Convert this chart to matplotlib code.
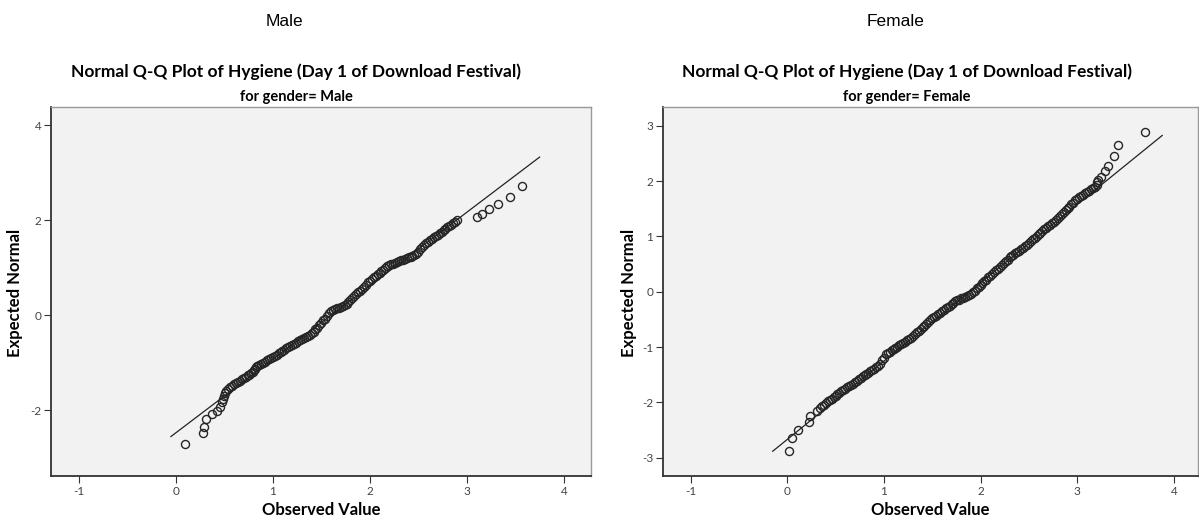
# Normal Q-Q plots of day 1 hygiene, split by gender (SPSS style)
import matplotlib
matplotlib.use("Agg")
import matplotlib.pyplot as plt

plt.rcParams["axes.unicode_minus"] = False

# values
# male: observed hygiene score and expected normal value, in rank order
male_obs = [0.10, 0.28, 0.29, 0.31, 0.37, 0.43, 0.46, 0.48, 0.49, 0.50, 0.51, 0.52,
            0.54, 0.56, 0.58, 0.60, 0.62, 0.64, 0.66, 0.68, 0.70, 0.72, 0.74, 0.76,
            0.78, 0.80, 0.81, 0.82, 0.83, 0.84, 0.86, 0.88, 0.90, 0.92, 0.94, 0.96,
            0.98, 1.00, 1.02, 1.04, 1.06, 1.08, 1.10, 1.12, 1.14, 1.16, 1.18, 1.20,
            1.22, 1.24, 1.26, 1.28, 1.30, 1.32, 1.34, 1.36, 1.38, 1.40, 1.42, 1.44,
            1.46, 1.48, 1.50, 1.52, 1.54, 1.56, 1.58, 1.60, 1.62, 1.64, 1.66, 1.68,
            1.70, 1.72, 1.74, 1.76, 1.78, 1.80, 1.82, 1.84, 1.86, 1.88, 1.90, 1.92,
            1.94, 1.96, 1.98, 2.00, 2.02, 2.04, 2.06, 2.08, 2.10, 2.12, 2.14, 2.16,
            2.18, 2.20, 2.22, 2.24, 2.26, 2.28, 2.30, 2.32, 2.34, 2.36, 2.38, 2.40,
            2.42, 2.44, 2.46, 2.48, 2.50, 2.52, 2.54, 2.56, 2.58, 2.60, 2.62, 2.64,
            2.66, 2.68, 2.70, 2.72, 2.74, 2.76, 2.78, 2.80, 2.82, 2.84, 2.86, 2.88,
            2.90, 3.10, 3.16, 3.23, 3.32, 3.44, 3.57]
male_exp = [-2.72, -2.48, -2.35, -2.19, -2.09, -2.02, -1.93, -1.84, -1.77, -1.70, -1.64, -1.59,
            -1.55, -1.52, -1.49, -1.46, -1.43, -1.40, -1.38, -1.35, -1.33, -1.30, -1.27, -1.25,
            -1.22, -1.20, -1.16, -1.13, -1.10, -1.08, -1.05, -1.03, -1.00, -0.98, -0.95, -0.93,
            -0.90, -0.88, -0.85, -0.83, -0.80, -0.78, -0.75, -0.73, -0.70, -0.68, -0.65, -0.63,
            -0.60, -0.58, -0.55, -0.53, -0.50, -0.48, -0.45, -0.43, -0.41, -0.38, -0.35, -0.30,
            -0.26, -0.21, -0.16, -0.11, -0.07, -0.02, 0.04, 0.09, 0.11, 0.13, 0.15, 0.16,
            0.18, 0.19, 0.21, 0.24, 0.28, 0.32, 0.36, 0.40, 0.44, 0.48, 0.52, 0.56,
            0.60, 0.64, 0.69, 0.73, 0.77, 0.80, 0.83, 0.86, 0.90, 0.93, 0.96, 0.99,
            1.03, 1.06, 1.08, 1.09, 1.11, 1.12, 1.14, 1.16, 1.17, 1.19, 1.20, 1.22,
            1.23, 1.25, 1.26, 1.29, 1.34, 1.39, 1.44, 1.49, 1.52, 1.55, 1.58, 1.61,
            1.64, 1.67, 1.70, 1.73, 1.76, 1.79, 1.82, 1.85, 1.88, 1.91, 1.94, 1.97,
            2.00, 2.08, 2.14, 2.23, 2.35, 2.50, 2.73]

# female: observed hygiene score and expected normal value, in rank order
female_obs = [0.02, 0.05, 0.11, 0.23, 0.24, 0.31, 0.34,
              0.36, 0.38, 0.40, 0.42, 0.44, 0.46, 0.48, 0.50, 0.52, 0.54, 0.56, 0.58,
              0.60, 0.62, 0.64, 0.66, 0.68, 0.70, 0.72, 0.74, 0.76, 0.78, 0.80, 0.82,
              0.84, 0.86, 0.88, 0.90, 0.92, 0.94, 0.96, 0.98, 1.00, 1.02, 1.04, 1.06,
              1.08, 1.10, 1.12, 1.14, 1.16, 1.18, 1.20, 1.22, 1.24, 1.26, 1.28, 1.30,
              1.32, 1.34, 1.36, 1.38, 1.40, 1.42, 1.44, 1.46, 1.48, 1.50, 1.52, 1.54,
              1.56, 1.58, 1.60, 1.62, 1.64, 1.66, 1.68, 1.70, 1.72, 1.74, 1.76, 1.78,
              1.80, 1.82, 1.84, 1.86, 1.88, 1.90, 1.92, 1.94, 1.96, 1.98, 2.00, 2.02,
              2.04, 2.06, 2.08, 2.10, 2.12, 2.14, 2.16, 2.18, 2.20, 2.22, 2.24, 2.26,
              2.28, 2.30, 2.32, 2.34, 2.36, 2.38, 2.40, 2.42, 2.44, 2.46, 2.48, 2.50,
              2.52, 2.54, 2.56, 2.58, 2.60, 2.62, 2.64, 2.66, 2.68, 2.70, 2.72, 2.74,
              2.76, 2.78, 2.80, 2.82, 2.84, 2.86, 2.88, 2.90, 2.92, 2.94, 2.96, 2.98,
              3.00, 3.02, 3.04, 3.06, 3.08, 3.10, 3.12, 3.14, 3.16, 3.18, 3.20, 3.21,
              3.22, 3.25, 3.29, 3.32, 3.38, 3.42, 3.70]
female_exp = [-2.88, -2.65, -2.50, -2.36, -2.24, -2.15, -2.10,
              -2.07, -2.04, -2.01, -1.98, -1.95, -1.93, -1.90, -1.88, -1.85, -1.83, -1.80, -1.78,
              -1.75, -1.73, -1.71, -1.68, -1.66, -1.63, -1.61, -1.58, -1.56, -1.53, -1.51, -1.48,
              -1.46, -1.44, -1.41, -1.39, -1.36, -1.34, -1.30, -1.24, -1.19, -1.13, -1.10, -1.08,
              -1.06, -1.03, -1.01, -0.99, -0.97, -0.94, -0.92, -0.90, -0.88, -0.85, -0.83, -0.80,
              -0.77, -0.73, -0.70, -0.67, -0.64, -0.61, -0.58, -0.54, -0.51, -0.48, -0.46, -0.43,
              -0.40, -0.38, -0.35, -0.33, -0.30, -0.27, -0.25, -0.22, -0.20, -0.17, -0.15, -0.14,
              -0.12, -0.11, -0.09, -0.07, -0.06, -0.04, -0.01, 0.02, 0.06, 0.09, 0.12, 0.16,
              0.19, 0.22, 0.26, 0.29, 0.32, 0.35, 0.39, 0.42, 0.45, 0.49, 0.52, 0.55,
              0.58, 0.62, 0.65, 0.67, 0.70, 0.72, 0.74, 0.77, 0.79, 0.82, 0.85, 0.88,
              0.91, 0.95, 0.98, 1.01, 1.04, 1.07, 1.10, 1.13, 1.16, 1.19, 1.21, 1.24,
              1.27, 1.30, 1.33, 1.37, 1.40, 1.44, 1.47, 1.51, 1.54, 1.58, 1.61, 1.65,
              1.68, 1.71, 1.73, 1.75, 1.78, 1.80, 1.83, 1.85, 1.88, 1.90, 1.93, 1.98,
              2.02, 2.07, 2.18, 2.28, 2.45, 2.66, 2.88]

# reference line: mean and sd of each group, drawn over this x range
male_mean, male_sd = 1.60, 0.645
female_mean, female_sd = 1.885, 0.706
male_line_x = [-0.05, 3.75]
female_line_x = [-0.15, 3.88]

male_yticks = [-2, 0, 2, 4]
female_yticks = [-3, -2, -1, 0, 1, 2, 3]
xticks = [-1, 0, 1, 2, 3, 4]

W, H = 1199, 520
fig = plt.figure(figsize=(W / 100, H / 100), dpi=100)
fig.patch.set_facecolor("white")

title_font = ["Lato", "DejaVu Sans"]
tick_font = ["Lato", "DejaVu Sans"]


def px(x, y):
    return x / W, 1 - y / H


def qq_panel(rect, obs, exp, mean, sd, line_x, xlim, ylim, yticks):
    ax = fig.add_axes(rect)
    ax.set_facecolor("#f2f2f2")
    ax.plot(obs, exp, linestyle="none", marker="o", markersize=5.8,
            markerfacecolor="none", markeredgecolor="#262626", markeredgewidth=1.0)
    line_y = [(v - mean) / sd for v in line_x]
    ax.plot(line_x, line_y, color="#222222", linewidth=0.9)
    ax.set_xlim(xlim)
    ax.set_ylim(ylim)
    ax.set_xticks(xticks)
    ax.set_yticks(yticks)
    ax.tick_params(direction="out", length=5, width=0.8, colors="#333333",
                   labelsize=8.5, pad=2)
    for lab in ax.get_xticklabels() + ax.get_yticklabels():
        lab.set_family(tick_font)
        lab.set_color("#444444")
    for side in ["left", "bottom"]:
        ax.spines[side].set_color("#333333")
        ax.spines[side].set_linewidth(1.3)
    for side in ["top", "right"]:
        ax.spines[side].set_color("#999999")
        ax.spines[side].set_linewidth(1.0)
    return ax


# left panel (male)
qq_panel([51 / W, 44 / H, 540 / W, 369 / H], male_obs, male_exp, male_mean, male_sd,
         male_line_x, (-1.286, 4.28), (-3.39, 4.39), male_yticks)
# right panel (female)
qq_panel([663 / W, 44 / H, 535 / W, 369 / H], female_obs, female_exp, female_mean, female_sd,
         female_line_x, (-1.285, 4.25), (-3.33, 3.34), female_yticks)

main_title = "Normal Q-Q Plot of Hygiene (Day 1 of Download Festival)"
for cx, title_x, lab_x, ylab_x, group in [(284, 296, 321, 15, "Male"),
                                          (896, 907, 930, 629, "Female")]:
    fig.text(*px(cx, 22), group, ha="center", va="center", fontsize=12.5,
             family="Liberation Sans")
    fig.text(*px(title_x, 72), main_title, ha="center", va="center", fontsize=12.5,
             fontweight="bold", family=title_font)
    fig.text(*px(title_x, 97), "for gender= " + group, ha="center", va="center",
             fontsize=10.5, fontweight="bold", family=title_font)
    fig.text(*px(lab_x, 510), "Observed Value", ha="center", va="center", fontsize=12,
             fontweight="bold", family=title_font)
    fig.text(*px(ylab_x, 293), "Expected Normal", ha="center", va="center", fontsize=12,
             fontweight="bold", family=title_font, rotation=90)

fig.savefig("out.png", dpi=100)
print("Done")
